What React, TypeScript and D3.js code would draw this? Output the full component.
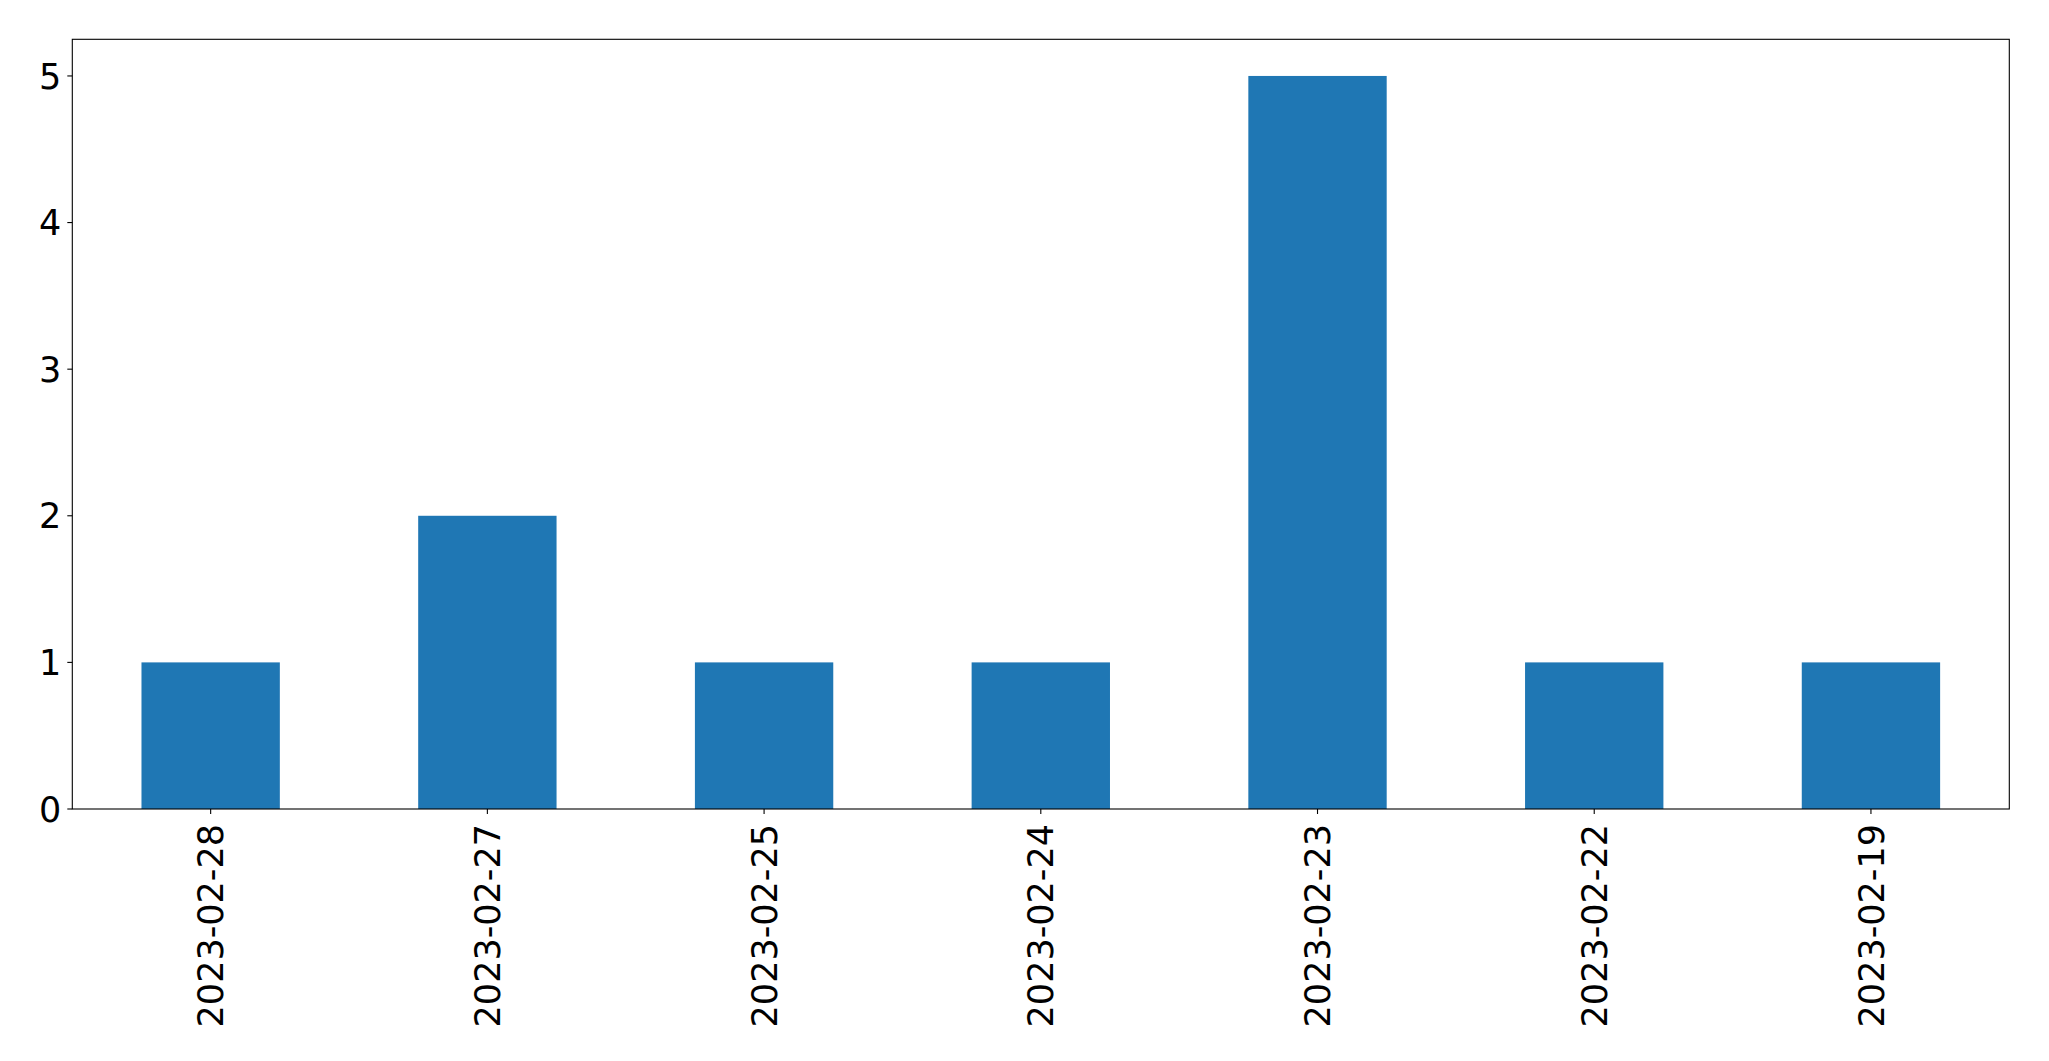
import React from "react";
import * as d3 from "d3";

const categories: string[] = [
  "2023-02-28",
  "2023-02-27",
  "2023-02-25",
  "2023-02-24",
  "2023-02-23",
  "2023-02-22",
  "2023-02-19",
];
const values: number[] = [1, 2, 1, 1, 5, 1, 1];
const yTicks: number[] = [0, 1, 2, 3, 4, 5];

const W = 2049;
const H = 1061;
const left = 72.3;
const right = 2009.3;
const top = 39.3;
const bottom = 809;

export default function App() {
  const x = d3
    .scaleLinear()
    .domain([-0.5, categories.length - 0.5])
    .range([left, right]);
  const yMax = d3.max(values)! * 1.05;
  const y = d3.scaleLinear().domain([0, yMax]).range([bottom, top]);
  const barW = x(0.25) - x(-0.25);
  const font = "'DejaVu Sans', sans-serif";
  const fs = 35;
  const tickLen = 5;

  return (
    <svg
      width={W}
      height={H}
      style={{ position: "absolute", left: 0, top: 0, background: "#fff" }}
    >
      <rect x={0} y={0} width={W} height={H} fill="#fff" />
      {values.map((v, i) => (
        <rect
          key={i}
          x={x(i) - barW / 2}
          y={y(v)}
          width={barW}
          height={y(0) - y(v)}
          fill="#1f77b4"
        />
      ))}
      <rect
        x={left}
        y={top}
        width={right - left}
        height={bottom - top}
        fill="none"
        stroke="#000"
        strokeWidth={1.1}
      />
      {yTicks.map((t) => (
        <g key={t}>
          <line
            x1={left - tickLen}
            x2={left}
            y1={y(t)}
            y2={y(t)}
            stroke="#000"
            strokeWidth={1.1}
          />
          <text
            x={left - tickLen - 6}
            y={y(t)}
            dy="0.36em"
            textAnchor="end"
            fontFamily={font}
            fontSize={fs}
            fill="#000"
          >
            {t}
          </text>
        </g>
      ))}
      {categories.map((c, i) => (
        <g key={c}>
          <line
            x1={x(i)}
            x2={x(i)}
            y1={bottom}
            y2={bottom + tickLen}
            stroke="#000"
            strokeWidth={1.1}
          />
          <text
            transform={`translate(${x(i)},${bottom + tickLen + 10}) rotate(-90)`}
            dy="0.36em"
            textAnchor="end"
            fontFamily={font}
            fontSize={fs}
            fill="#000"
          >
            {c}
          </text>
        </g>
      ))}
    </svg>
  );
}
